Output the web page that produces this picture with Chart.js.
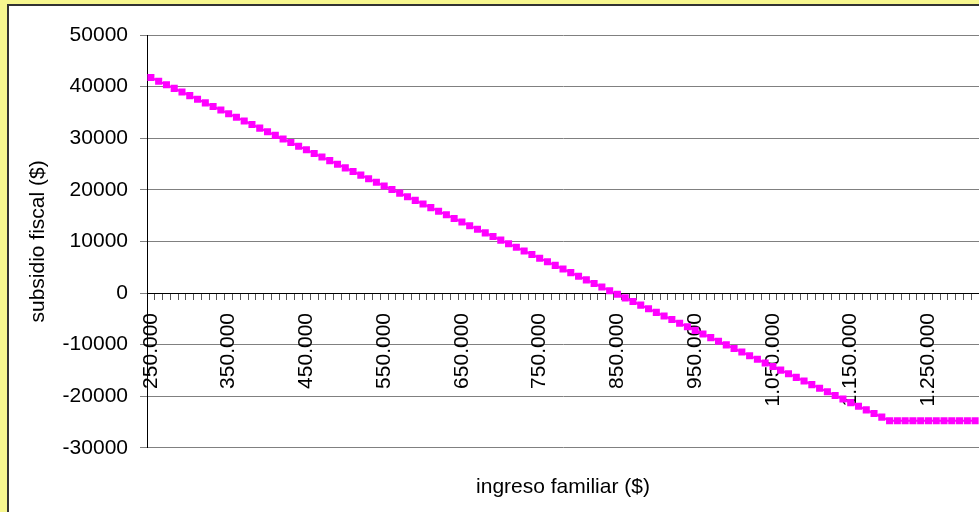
<!DOCTYPE html>
<html lang="es">
<head>
    <meta charset="UTF-8">
    <title>Subsidio fiscal vs ingreso familiar</title>
    <script src="https://cdn.jsdelivr.net/npm/chart.js"></script>
</head>
<style>
    body { margin: 0; background: #F7F78F; }
    #subsidioChart { display: block; }
</style>
<body>
    <canvas id="subsidioChart" width="979" height="512"></canvas>

    <script>
        // ingreso familiar ($), one category every 10.000
        const ingreso = [
            '250.000','260.000','270.000','280.000','290.000','300.000','310.000','320.000','330.000','340.000',
            '350.000','360.000','370.000','380.000','390.000','400.000','410.000','420.000','430.000','440.000',
            '450.000','460.000','470.000','480.000','490.000','500.000','510.000','520.000','530.000','540.000',
            '550.000','560.000','570.000','580.000','590.000','600.000','610.000','620.000','630.000','640.000',
            '650.000','660.000','670.000','680.000','690.000','700.000','710.000','720.000','730.000','740.000',
            '750.000','760.000','770.000','780.000','790.000','800.000','810.000','820.000','830.000','840.000',
            '850.000','860.000','870.000','880.000','890.000','900.000','910.000','920.000','930.000','940.000',
            '950.000','960.000','970.000','980.000','990.000','1.000.000','1.010.000','1.020.000','1.030.000','1.040.000',
            '1.050.000','1.060.000','1.070.000','1.080.000','1.090.000','1.100.000','1.110.000','1.120.000','1.130.000','1.140.000',
            '1.150.000','1.160.000','1.170.000','1.180.000','1.190.000','1.200.000','1.210.000','1.220.000','1.230.000','1.240.000',
            '1.250.000','1.260.000','1.270.000','1.280.000','1.290.000','1.300.000','1.310.000'
        ];

        // subsidio fiscal ($)
        const subsidio = [
            41750, 41050, 40350, 39650, 38950, 38250, 37550, 36850, 36150, 35450,
            34750, 34050, 33350, 32650, 31950, 31250, 30550, 29850, 29150, 28450,
            27750, 27050, 26350, 25650, 24950, 24250, 23550, 22850, 22150, 21450,
            20750, 20050, 19350, 18650, 17950, 17250, 16550, 15850, 15150, 14450,
            13750, 13050, 12350, 11650, 10950, 10250, 9550, 8850, 8150, 7450,
            6750, 6050, 5350, 4650, 3950, 3250, 2550, 1850, 1150, 450,
            -250, -950, -1650, -2350, -3050, -3750, -4450, -5150, -5850, -6550,
            -7250, -7950, -8650, -9350, -10050, -10750, -11450, -12150, -12850, -13550,
            -14250, -14950, -15650, -16350, -17050, -17750, -18450, -19150, -19850, -20550,
            -21250, -21950, -22650, -23350, -24050, -24750, -24750, -24750, -24750, -24750,
            -24750, -24750, -24750, -24750, -24750, -24750, -24750
        ];

        const yMin = -30000;
        const yMax = 50000;
        const yStep = 10000;

        Chart.defaults.font.family = "'Liberation Sans', Arial, sans-serif";
        Chart.defaults.color = '#000';

        // yellow page with the white chart panel (dark edge top/left)
        const fondo = {
            id: 'fondo',
            beforeDraw(chart) {
                const c = chart.ctx;
                c.save();
                c.fillStyle = '#F7F78F';
                c.fillRect(0, 0, chart.width, chart.height);
                c.fillStyle = '#333';
                c.fillRect(7, 4, chart.width, chart.height);
                c.fillStyle = '#fff';
                c.fillRect(9, 6, chart.width, chart.height);
                c.restore();
            }
        };

        const ctx = document.getElementById('subsidioChart').getContext('2d');
        new Chart(ctx, {
            type: 'line',
            data: {
                labels: ingreso,
                datasets: [{
                    label: 'subsidio fiscal',
                    data: subsidio,
                    borderColor: '#FF00FF',
                    backgroundColor: '#FF00FF',
                    borderWidth: 2,
                    pointStyle: 'rect',
                    pointRadius: 5,
                    pointBorderWidth: 0,
                    tension: 0
                }]
            },
            options: {
                responsive: false,
                animation: false,
                devicePixelRatio: 1,
                layout: {
                    autoPadding: false,
                    padding: { left: 0, top: 35, right: 0, bottom: 8 }
                },
                plugins: {
                    legend: { display: false },
                    tooltip: { enabled: false },
                    title: {
                        display: true,
                        position: 'bottom',
                        fullSize: false,
                        text: 'ingreso familiar ($)',
                        color: '#000',
                        font: { size: 21, weight: 'normal' },
                        padding: { top: 27, bottom: 4 }
                    }
                },
                scales: {
                    x: {
                        type: 'category',
                        position: { y: 0 },
                        offset: true,
                        afterFit(scale) {
                            scale.paddingLeft = 0;
                            scale.paddingRight = 0;
                        },
                        grid: {
                            drawOnChartArea: false,
                            drawTicks: true,
                            tickLength: 6,
                            offset: true,
                            color: '#555'
                        },
                        border: { color: '#000', width: 1 },
                        ticks: {
                            autoSkip: false,
                            minRotation: 90,
                            maxRotation: 90,
                            padding: 14,
                            font: { size: 21 },
                            callback: function (v, i) {
                                return i % 10 === 0 ? this.getLabelForValue(v) : '';
                            }
                        }
                    },
                    y: {
                        min: yMin,
                        max: yMax,
                        afterFit(scale) { scale.width = 147; },
                        grid: { color: '#808080', tickLength: 7 },
                        border: { color: '#000', width: 1 },
                        ticks: {
                            stepSize: yStep,
                            padding: 12,
                            font: { size: 21 },
                            callback: v => String(v)
                        },
                        title: {
                            display: true,
                            text: 'subsidio fiscal ($)',
                            color: '#000',
                            font: { size: 21 },
                            padding: { top: 26, bottom: 0 }
                        }
                    }
                }
            },
            plugins: [fondo]
        });
    </script>
</body>
</html>
